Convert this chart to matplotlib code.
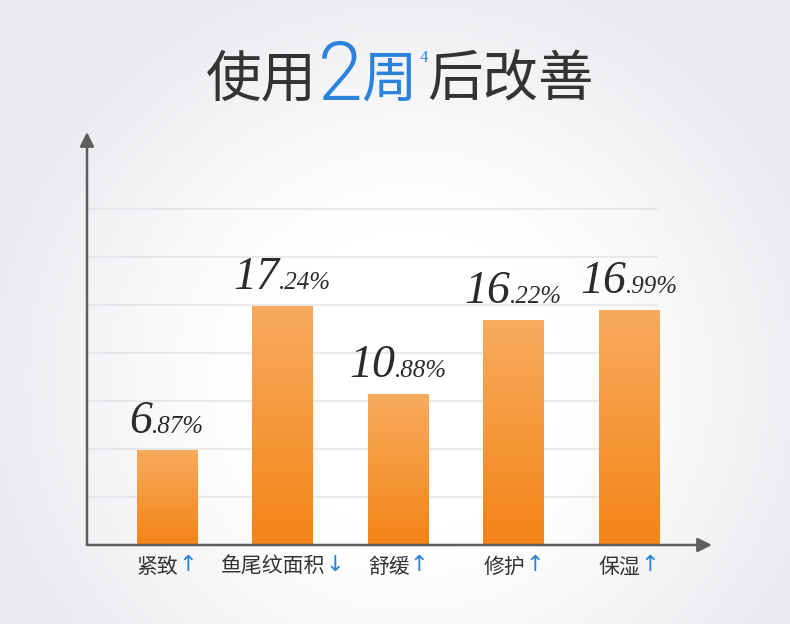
import numpy as np
import matplotlib
matplotlib.use('Agg')
import matplotlib.pyplot as plt

# ---------------- data ----------------
categories = ['紧致', '鱼尾纹面积', '舒缓', '修护', '保湿']
arrows = ['↑', '↓', '↑', '↑', '↑']
values = [6.87, 17.24, 10.88, 16.22, 16.99]
grid_levels = [3.47, 6.93, 10.40, 13.86, 17.33, 20.80, 24.26]
title_parts = ['使用', '2', '周', '4', '后改善']

W, H, DPI = 790, 624, 100
CJK = ['Noto Sans CJK SC', 'DejaVu Sans']
DARK = '#333333'
BLUE = '#2b82dc'
AXC = '#5e5e5e'

fig = plt.figure(figsize=(W / DPI, H / DPI), dpi=DPI)

# ---------------- background vignette ----------------
bg = fig.add_axes([0, 0, 1, 1], zorder=-10)
yy, xx = np.mgrid[0:H, 0:W]
d = np.sqrt(((xx - 410) / 440.0) ** 2 + ((yy - 380) / 430.0) ** 2)
g = np.clip((d - 0.35) / 0.65, 0, 1) ** 1.3
img = np.ones((H, W, 3))
img[..., 0] -= g * 0.085
img[..., 1] -= g * 0.085
img[..., 2] -= g * 0.065
bg.imshow(img, extent=[0, W, H, 0], aspect='auto', interpolation='bilinear')
bg.set_xlim(0, W)
bg.set_ylim(H, 0)
bg.axis('off')

# ---------------- main axes ----------------
ax = fig.add_axes([87 / W, 1 - 545 / H, (712 - 87) / W, (545 - 132) / H])
ax.patch.set_alpha(0)
xlim = (-0.693, 4.719)
ylim = (0, 29.82)
for s in ax.spines.values():
    s.set_visible(False)
ax.set_xticks([])
ax.set_yticks([])

# gridlines
for gl in grid_levels:
    ax.axhline(gl, xmin=0, xmax=0.912, color='#e4e4e8', lw=1.1, zorder=0)

# bars with vertical gradient
xs = np.arange(len(values))
bars = ax.bar(xs, values, width=0.52, color='#f28619', zorder=2)
grad = np.linspace(0, 1, 256).reshape(-1, 1)
top_c = np.array([247, 171, 94]) / 255.0
bot_c = np.array([243, 132, 22]) / 255.0
gimg = top_c[None, None, :] * (1 - grad[..., None]) + bot_c[None, None, :] * grad[..., None]
for b in bars:
    x0 = b.get_x()
    w = b.get_width()
    h = b.get_height()
    im = ax.imshow(gimg, extent=[x0, x0 + w, 0, h], aspect='auto',
                   origin='upper', zorder=3, interpolation='bilinear')
    im.set_clip_path(b)
ax.set_xlim(*xlim)
ax.set_ylim(*ylim)

# axis arrows
ap = dict(arrowstyle='-|>,head_length=0.85,head_width=0.42', color=AXC,
          lw=1.8, shrinkA=0, shrinkB=0, mutation_scale=10)
ax.annotate('', xy=(0, 1), xytext=(0, 0), xycoords='axes fraction', arrowprops=ap, zorder=5)
ax.annotate('', xy=(1, 0), xytext=(0, 0), xycoords='axes fraction', arrowprops=ap, zorder=5)

fig.canvas.draw()
r = fig.canvas.get_renderer()

# value labels
for i, v in enumerate(values):
    s = f'{v:.2f}%'
    big, small = s.split('.')
    small = '.' + small
    kw = dict(xy=(i, v), textcoords='offset pixels', ha='left', va='baseline',
              family='Liberation Serif', style='italic', color='#2b2b2b', zorder=6)
    t1 = ax.annotate(big, xytext=(0, 17), fontsize=33, **kw)
    t2 = ax.annotate(small, xytext=(0, 17), fontsize=18, **kw)
    w1 = t1.get_window_extent(r).width
    w2 = t2.get_window_extent(r).width
    x0 = -(w1 + w2) / 2
    t1.set_position((x0, 17))
    t2.set_position((x0 + w1, 17))

# category labels
for i, (c, a) in enumerate(zip(categories, arrows)):
    kw = dict(xy=(i, 0), textcoords='offset pixels', ha='left', va='center',
              zorder=6, annotation_clip=False)
    t1 = ax.annotate(c, xytext=(0, -22), color=DARK, family=CJK, fontsize=15, **kw)
    t2 = ax.annotate(a, xytext=(0, -22), color=BLUE, family=['DejaVu Sans'],
                     fontsize=16, **kw)
    w1 = t1.get_window_extent(r).width
    w2 = t2.get_window_extent(r).width
    x0 = -(w1 + w2) / 2
    t1.set_position((x0, -22))
    t2.set_position((x0 + w1, -20))

# title
def fx(x):
    return x / W

def fy(y):
    return 1 - y / H

fig.text(fx(261), fy(81), title_parts[0], family=CJK, fontsize=40, color=DARK, ha='center', va='center')
fig.text(fx(340), fy(78), title_parts[1], family=['Roboto', 'DejaVu Sans'], fontsize=58,
         color=BLUE, ha='center', va='center', fontweight=300)
fig.text(fx(389), fy(81), title_parts[2], family=CJK, fontsize=40, color=BLUE, ha='center', va='center')
fig.text(fx(424), fy(58), title_parts[3], family=['Liberation Serif', 'DejaVu Sans'], fontsize=12, color=BLUE, ha='center', va='center')
fig.text(fx(510), fy(81), title_parts[4], family=CJK, fontsize=40, color=DARK, ha='center', va='center')

fig.savefig('out.png', dpi=DPI)
